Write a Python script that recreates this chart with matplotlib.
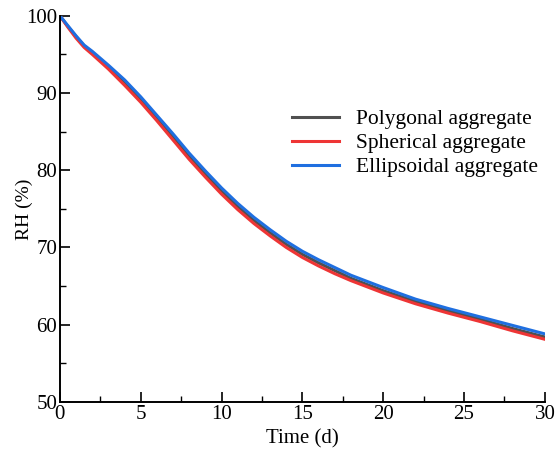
import matplotlib.pyplot as plt
from matplotlib.ticker import MultipleLocator

plt.rcParams['font.family'] = ['Liberation Serif', 'DejaVu Serif']

# time (days) and relative humidity (%) for the three aggregate shapes
t = [0, 0.5, 1, 1.5, 2, 3, 4, 5, 6, 7, 8, 9, 10, 11, 12, 13, 14, 15,
     16, 17, 18, 19, 20, 22, 24, 26, 28, 30]
rh_polygonal = [100, 98.6, 97.3, 96.1, 95.2, 93.4, 91.4, 89.2, 86.8, 84.3,
                81.8, 79.5, 77.3, 75.3, 73.5, 71.9, 70.4, 69.1, 68.0, 67.0,
                66.0, 65.2, 64.4, 63.0, 61.8, 60.7, 59.5, 58.4]
rh_spherical = [100, 98.5, 97.1, 95.9, 95.0, 93.1, 91.0, 88.8, 86.4, 83.9,
                81.4, 79.1, 76.9, 74.9, 73.1, 71.5, 70.0, 68.7, 67.6, 66.6,
                65.7, 64.9, 64.1, 62.7, 61.5, 60.4, 59.2, 58.1]
rh_ellipsoidal = [100, 98.7, 97.4, 96.2, 95.4, 93.6, 91.7, 89.5, 87.1, 84.7,
                  82.2, 79.9, 77.7, 75.7, 73.9, 72.3, 70.8, 69.5, 68.4, 67.4,
                  66.4, 65.6, 64.8, 63.3, 62.1, 61.0, 59.9, 58.8]

fig = plt.figure(figsize=(5.6, 4.51), dpi=100)
ax = fig.add_axes([0.107, 0.109, 0.866, 0.856])

ax.plot(t, rh_polygonal, color='#505050', lw=2.2, label='Polygonal aggregate')
ax.plot(t, rh_spherical, color='#ee3535', lw=2.2, label='Spherical aggregate')
ax.plot(t, rh_ellipsoidal, color='#1f6fe0', lw=2.2, label='Ellipsoidal aggregate')

ax.set_xlim(0, 30)
ax.set_ylim(50, 100)
ax.xaxis.set_major_locator(MultipleLocator(5))
ax.xaxis.set_minor_locator(MultipleLocator(2.5))
ax.yaxis.set_major_locator(MultipleLocator(10))
ax.yaxis.set_minor_locator(MultipleLocator(5))

for side in ['top', 'right']:
    ax.spines[side].set_visible(False)
for side in ['left', 'bottom']:
    ax.spines[side].set_linewidth(1.4)

ax.tick_params(which='major', direction='in', length=7, width=1.2,
               labelsize=15, pad=2)
ax.tick_params(which='minor', direction='in', length=4, width=1.0)

ax.set_xlabel('Time (d)', fontsize=15, labelpad=4)
ax.set_ylabel('RH (%)', fontsize=14, labelpad=-5)

ax.legend(loc='upper left', bbox_to_anchor=(0.438, 0.808), frameon=False,
          fontsize=15.5, handlelength=2.2, handletextpad=0.8,
          labelspacing=0.18)

fig.savefig('out.png', dpi=100)
